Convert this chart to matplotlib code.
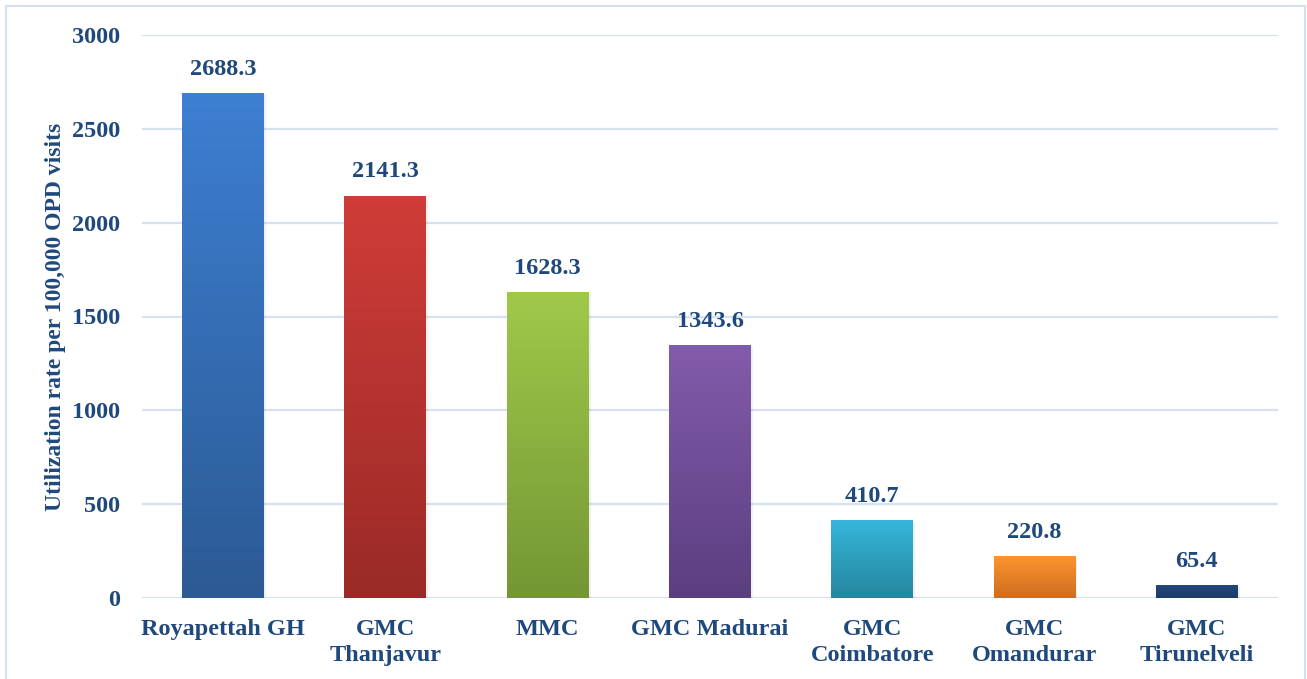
import numpy as np
import matplotlib.pyplot as plt
from matplotlib.colors import LinearSegmentedColormap
from matplotlib.lines import Line2D

categories = ["Royapettah GH", "GMC\nThanjavur", "MMC", "GMC Madurai",
              "GMC\nCoimbatore", "GMC\nOmandurar", "GMC\nTirunelveli"]
values = [2688.3, 2141.3, 1628.3, 1343.6, 410.7, 220.8, 65.4]
value_labels = ["2688.3", "2141.3", "1628.3", "1343.6", "410.7", "220.8", "65.4"]
yticks = [0, 500, 1000, 1500, 2000, 2500, 3000]
ylabel = "Utilization rate per 100,000 OPD visits"

# (top colour, bottom colour) for each bar's vertical gradient
bar_gradients = [
    ("#3d7fd2", "#2c5a94"),
    ("#d03c38", "#9a2a27"),
    ("#a0c94a", "#749634"),
    ("#835bab", "#5b3e80"),
    ("#35b6da", "#26869f"),
    ("#fc952f", "#cf6c1f"),
    ("#234679", "#1c3b67"),
]

text_color = "#1f487c"
grid_color = "#d6e2f2"
font = "Liberation Serif"

W, H = 1307, 679
fig = plt.figure(figsize=(W / 100, H / 100), dpi=100)
ax = fig.add_axes([142 / W, 81 / H, (1278 - 142) / W, (598 - 35) / H])

x = np.arange(len(categories))
bars = ax.bar(x, values, width=0.505, color="none", zorder=3)

grad = np.linspace(0, 1, 256).reshape(-1, 1)
for bar, (top, bottom) in zip(bars, bar_gradients):
    cmap = LinearSegmentedColormap.from_list("g", [bottom, top])
    x0, y0 = bar.get_x(), bar.get_y()
    w, h = bar.get_width(), bar.get_height()
    # soft drop shadow
    ax.add_patch(plt.Rectangle((x0 + 0.012, y0 - 8), w, h, color="#000000",
                               alpha=0.06, zorder=2, lw=0))
    ax.imshow(grad, cmap=cmap, origin="lower", aspect="auto",
              extent=(x0, x0 + w, y0, y0 + h), zorder=3, interpolation="bilinear")

for xi, v, lab in zip(x, values, value_labels):
    ax.annotate(lab, (xi, v), xytext=(0, 10), textcoords="offset points",
                ha="center", va="bottom", fontsize=17.5, fontweight="bold",
                color=text_color, family=font)

ax.set_xlim(-0.5, len(categories) - 0.5)
ax.set_ylim(0, 3000)
ax.set_yticks(yticks)
ax.set_yticklabels([str(t) for t in yticks])
ax.set_xticks(x)
ax.set_xticklabels(categories, linespacing=1.3)

for lab in ax.get_yticklabels() + ax.get_xticklabels():
    lab.set_fontfamily(font)
    lab.set_fontweight("bold")
    lab.set_fontsize(17.5)
    lab.set_color(text_color)

ax.tick_params(axis="y", length=0, pad=16)
ax.tick_params(axis="x", length=0, pad=15)
for s in ax.spines.values():
    s.set_visible(False)
ax.yaxis.grid(True, color=grid_color, lw=1.6, zorder=0)
ax.set_axisbelow(True)

ax.set_ylabel(ylabel, fontsize=17, fontweight="bold", color=text_color,
              family=font, labelpad=4)

# outer frame of the chart area
frame_kw = dict(color="#d3e0f1", lw=1.5, transform=fig.transFigure)
fig.add_artist(Line2D([6 / W, 6 / W], [0, 1 - 6 / H], **frame_kw))
fig.add_artist(Line2D([6 / W, 1305 / W], [1 - 6 / H, 1 - 6 / H], **frame_kw))
fig.add_artist(Line2D([1305 / W, 1305 / W], [0, 1 - 6 / H], **frame_kw))

fig.savefig("out.png", dpi=100)
